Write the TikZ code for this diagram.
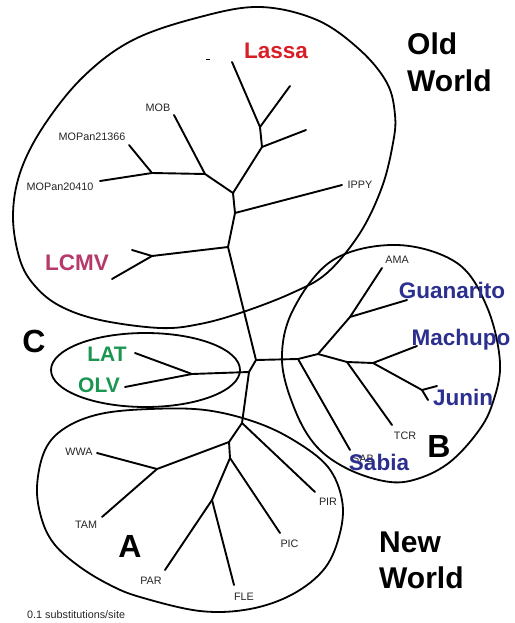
\documentclass[tikz,border=0pt]{standalone}
\usepackage{fontspec}
\setmainfont{Liberation Sans}
\definecolor{oldred}{HTML}{D81E26}
\definecolor{lcmvpink}{HTML}{B5396B}
\definecolor{cladegreen}{HTML}{1A9650}
\definecolor{cladeblue}{HTML}{2B2F8F}
\tikzset{
  branch/.style={line width=1.9pt, line cap=round, line join=round},
  hull/.style={line width=1.8pt},
  tip/.style={font=\fontsize{10.8}{12}\selectfont, text=black!85, inner sep=0, anchor=base},
  virus/.style={font=\bfseries\fontsize{22.5}{26}\selectfont, inner sep=0, anchor=base},
  group/.style={font=\bfseries\fontsize{32}{36}\selectfont, inner sep=0, anchor=base},
  region/.style={font=\bfseries\fontsize{30}{36}\selectfont, inner sep=0, anchor=base west},
}
\begin{document}
\begin{tikzpicture}[x=1pt, y=-1pt]
\useasboundingbox (0,0) rectangle (514,623);
\fill[white] (0,0) rectangle (514,623);

% ---- tree: internal nodes ----
\coordinate (n1) at (260,127);
\coordinate (n2) at (262,147);
\coordinate (n3) at (233,193);
\coordinate (nMOB) at (205,174);
\coordinate (nMOP) at (152,173);
\coordinate (n4) at (235,213);
\coordinate (n5) at (228,247);
\coordinate (nLCMV) at (152,256);
\coordinate (n6) at (256,360);
\coordinate (nB0) at (298,359);
\coordinate (nB1) at (318,354);
\coordinate (nB2) at (350,317);
\coordinate (nB3) at (347,362);
\coordinate (nB4) at (373,363);
\coordinate (nJ) at (422,390);
\coordinate (n7) at (249,372);
\coordinate (nC) at (192,374);
\coordinate (n8) at (242,423);
\coordinate (n9) at (229,442);
\coordinate (nW) at (157,469);
\coordinate (n10) at (230,458);
\coordinate (n11) at (212,500);

% ---- tree: leaf ends ----
\coordinate (lLas1) at (232,62);
\coordinate (lLas2) at (290,86);
\coordinate (lLas3) at (306,130);
\coordinate (lMOB) at (174,115);
\coordinate (lMOP1) at (129,145);
\coordinate (lMOP2) at (100,181);
\coordinate (lIPPY) at (342,185);
\coordinate (lLC1) at (132,250);
\coordinate (lLC2) at (112,279);
\coordinate (lSAB) at (350,450);
\coordinate (lAMA) at (382,268);
\coordinate (lGUA) at (407,300);
\coordinate (lTCR) at (392,425);
\coordinate (lMAC) at (417,346);
\coordinate (lJUN1) at (437,386);
\coordinate (lJUN2) at (428,400);
\coordinate (lLAT) at (135,353);
\coordinate (lOLV) at (125,387);
\coordinate (lPIR) at (315,492);
\coordinate (lWWA) at (97,453);
\coordinate (lTAM) at (102,517);
\coordinate (lPIC) at (280,533);
\coordinate (lPAR) at (165,570);
\coordinate (lFLE) at (234,585);

% ---- tree: branches ----
\draw[branch] (lLas1) -- (n1) -- (n2) -- (n3) -- (n4) -- (n5) -- (n6) -- (n7) -- (n8) -- (n9) -- (n10) -- (n11);
\draw[branch] (lLas2) -- (n1);
\draw[branch] (lLas3) -- (n2);
\draw[branch] (n3) -- (nMOB) -- (lMOB);
\draw[branch] (nMOB) -- (nMOP) -- (lMOP2);
\draw[branch] (nMOP) -- (lMOP1);
\draw[branch] (n4) -- (lIPPY);
\draw[branch] (n5) -- (nLCMV) -- (lLC1);
\draw[branch] (nLCMV) -- (lLC2);
\draw[branch] (n6) -- (nB0) -- (lSAB);
\draw[branch] (nB0) -- (nB1) -- (nB2) -- (lAMA);
\draw[branch] (nB2) -- (lGUA);
\draw[branch] (nB1) -- (nB3) -- (lTCR);
\draw[branch] (nB3) -- (nB4) -- (lMAC);
\draw[branch] (nB4) -- (nJ) -- (lJUN1);
\draw[branch] (nJ) -- (lJUN2);
\draw[branch] (n7) -- (nC) -- (lLAT);
\draw[branch] (nC) -- (lOLV);
\draw[branch] (n8) -- (lPIR);
\draw[branch] (n9) -- (nW) -- (lWWA);
\draw[branch] (nW) -- (lTAM);
\draw[branch] (n10) -- (lPIC);
\draw[branch] (n11) -- (lPAR);
\draw[branch] (n11) -- (lFLE);
\draw[line width=0.8pt] (206,59.5) -- (210,59.5);

% ---- group outlines ----
\draw[hull] plot[smooth cycle, tension=0.6] coordinates {
  (260,7) (317,20) (360,50) (387,83) (395,115) (393,143) (382,187)
  (360,233) (327,273) (292,293) (243,312) (200,324) (160,328)
  (100,320) (60,306) (35,286) (20,260) (13,217) (20,173) (43,127)
  (83,77) (133,40) (200,17)};
\draw[hull] plot[smooth cycle, tension=0.6] coordinates {
  (397,245) (457,263) (487,307) (500,363) (492,405) (477,433)
  (450,462) (420,478) (390,482) (350,470) (317,447) (295,410)
  (282,360) (293,310) (333,260)};
\draw[hull] (145.5,370) ellipse [x radius=94.5pt, y radius=37pt];
\draw[hull] plot[smooth cycle, tension=0.6] coordinates {
  (150,409) (205,410) (255,422) (295,441) (328,467) (342,500)
  (340,533) (325,568) (293,594) (250,609) (200,611) (140,597)
  (110,585) (80,567) (55,545) (42,520) (37,487) (45,450) (65,428)
  (100,414)};

% ---- leaf labels ----
\node[tip] (tMOB) at (158,111) {MOB};
\node[tip] (tMOP1) at (92,140) {MOPan21366};
\node[tip] (tMOP2) at (60,190) {MOPan20410};
\node[tip] (tIPPY) at (360,188) {IPPY};
\node[tip] (tAMA) at (397,263) {AMA};
\node[tip] (tTCR) at (405,439) {TCR};
\node[tip] (tSAB) at (363,462) {SAB};
\node[tip] (tPIR) at (328,505) {PIR};
\node[tip] (tPIC) at (289.5,547) {PIC};
\node[tip] (tWWA) at (79,455) {WWA};
\node[tip] (tTAM) at (86,528) {TAM};
\node[tip] (tPAR) at (151,584) {PAR};
\node[tip] (tFLE) at (244,600) {FLE};
\node[tip, anchor=base west] (scale) at (27,618) {0.1 substitutions/site};

% ---- virus names ----
\node[virus, text=oldred] (vLassa) at (276,59) {Lassa};
\node[virus, text=lcmvpink] (vLCMV) at (77,270) {LCMV};
\node[virus, text=cladegreen, font=\bfseries\fontsize{21}{24}\selectfont] (vLAT) at (107,361) {LAT};
\node[virus, text=cladegreen, font=\bfseries\fontsize{21}{24}\selectfont] (vOLV) at (99,392) {OLV};
\node[virus, text=cladeblue] (vGua) at (452,298) {Guanarito};
\node[virus, text=cladeblue] (vMac) at (461,345) {Machupo};
\node[virus, text=cladeblue] (vJun) at (463,405) {Junin};
\node[virus, text=cladeblue] (vSab) at (379,470) {Sabia};

% ---- clade letters and regions ----
\node[group] (gA) at (130,557) {A};
\node[group] (gB) at (439,457) {B};
\node[group] (gC) at (34,352) {C};
\node[region] (rOld1) at (407,55) {Old};
\node[region] (rOld2) at (407,92) {World};
\node[region] (rNew1) at (379,552) {New};
\node[region] (rNew2) at (379,588) {World};
\end{tikzpicture}
\end{document}
